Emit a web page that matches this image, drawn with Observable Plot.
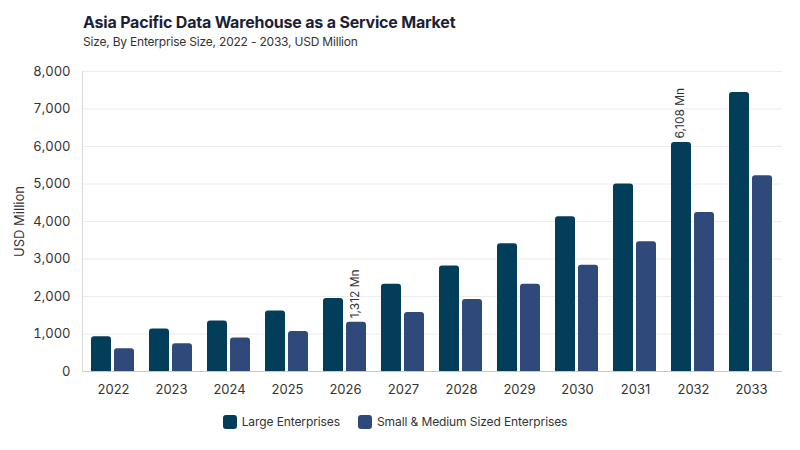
<!DOCTYPE html>
<html>
<head>
<meta charset="utf-8">
<script src="https://cdn.jsdelivr.net/npm/d3@7"></script>
<script src="https://cdn.jsdelivr.net/npm/@observablehq/plot@0.6"></script>
<style>
  body { margin: 0; background: #fff; font-family: Inter, "Open Sans", sans-serif; }
  #wrap { width: 800px; height: 450px; position: relative; }
  .title { position: absolute; left: 83px; top: 12px; font-size: 16px; font-weight: 700; color: #1c1f35; letter-spacing: -0.2px; }
  .subtitle { position: absolute; left: 83px; top: 34px; font-size: 12px; color: #333; letter-spacing: -0.2px; }
  .layer { position: absolute; left: 0; top: 55px; }
  .legend { position: absolute; left: 0; top: 414px; width: 790px; display: flex; justify-content: center; gap: 18px; font-size: 12px; letter-spacing: -0.1px; color: #333; }
  .legend span { display: inline-flex; align-items: center; gap: 5px; }
  .legend i { display: inline-block; width: 14px; height: 14px; border-radius: 3px; }
</style>
</head>
<body>
<div id="wrap">
  <div class="title">Asia Pacific Data Warehouse as a Service Market</div>
  <div class="subtitle">Size, By Enterprise Size, 2022 - 2033, USD Million</div>
  <div class="layer" id="axes"></div>
  <div class="layer" id="bars"></div>
  <div class="legend" id="legend"></div>
</div>
<script>
// Market size by year and enterprise size (USD Million)
const years = [2022, 2023, 2024, 2025, 2026, 2027, 2028, 2029, 2030, 2031, 2032, 2033];
const largeEnterprises = [930, 1135, 1350, 1615, 1950, 2330, 2815, 3405, 4130, 5000, 6108, 7440];
const smeEnterprises = [607, 741, 893, 1070, 1312, 1574, 1922, 2324, 2834, 3457, 4243, 5222];
const seriesNames = ["Large Enterprises", "Small & Medium Sized Enterprises"];
const seriesColors = ["#023e5a", "#2f4a7a"];
const yTicks = [0, 1000, 2000, 3000, 4000, 5000, 6000, 7000, 8000];
// Bars that carry a value label
const labelled = [
  {year: 2026, series: seriesNames[1]},
  {year: 2032, series: seriesNames[0]}
];

const data = years.flatMap((year, i) => [
  {year, series: seriesNames[0], value: largeEnterprises[i]},
  {year, series: seriesNames[1], value: smeEnterprises[i]}
]);
const labels = labelled.map(l => data.find(d => d.year === l.year && d.series === l.series));

// Shared frame so that the axis layer and the bar layer line up
const frame = {
  width: 800, height: 345,
  marginTop: 16, marginBottom: 29, marginLeft: 82, marginRight: 18,
  style: {fontFamily: "Inter, 'Open Sans', sans-serif", fontSize: "13px", color: "#333", background: "transparent", overflow: "visible"}
};
const yScale = {domain: [0, 8000], label: null};
const yearBand = {domain: years, paddingInner: 0.245, paddingOuter: 0.1225};

// Background layer: grid, baseline, axis line and tick labels
const axes = Plot.plot({
  ...frame,
  x: {...yearBand, label: null},
  y: yScale,
  marks: [
    Plot.gridY(yTicks, {stroke: "#ececec", strokeOpacity: 1}),
    Plot.ruleY([0], {stroke: "#c8c8c8", strokeWidth: 1.2}),
    Plot.frame({anchor: "left", stroke: "#dcdcdc", strokeWidth: 1.2}),
    Plot.axisY(yTicks, {
      tickSize: 0, tickPadding: 12, tickFormat: d3.format(","),
      label: "USD Million", labelAnchor: "center", labelArrow: "none", labelOffset: 68,
      fill: "#333"
    }),
    Plot.axisX({tickSize: 0, tickPadding: 13, tickFormat: d => String(d), label: null, fill: "#333"})
  ]
});
document.getElementById("axes").appendChild(axes);

// Foreground layer: grouped bars faceted by year
const bars = Plot.plot({
  ...frame,
  fx: {...yearBand, axis: null, label: null},
  x: {domain: seriesNames, paddingInner: 0.11, paddingOuter: 0, axis: null},
  y: {...yScale, axis: null},
  color: {domain: seriesNames, range: seriesColors},
  marks: [
    Plot.barY(data, {
      fx: "year", x: "series", y: "value", fill: "series",
      rx1y1: 3, rx2y1: 3
    }),
    Plot.text(labels, {
      fx: "year", x: "series", y: "value",
      text: d => `${d3.format(",")(d.value)} Mn`,
      rotate: -90, textAnchor: "start", lineAnchor: "middle",
      dy: -4, dx: -1, fontSize: 12, fill: "#333"
    })
  ]
});
document.getElementById("bars").appendChild(bars);

const legend = document.getElementById("legend");
seriesNames.forEach((name, i) => {
  const item = document.createElement("span");
  const sw = document.createElement("i");
  sw.style.background = seriesColors[i];
  item.appendChild(sw);
  item.appendChild(document.createTextNode(name));
  legend.appendChild(item);
});
</script>
</body>
</html>
